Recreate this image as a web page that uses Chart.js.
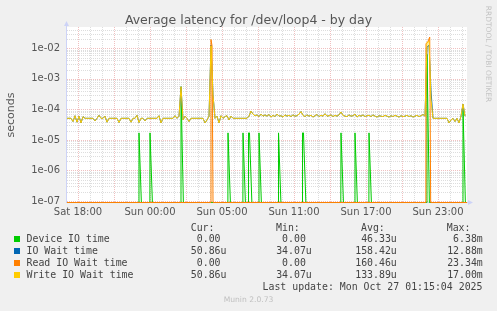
<!DOCTYPE html>
<html>
<head>
<meta charset="utf-8">
<script src="https://cdn.jsdelivr.net/npm/chart.js@4.4.1/dist/chart.umd.min.js"></script>
<style>
  html, body { margin: 0; padding: 0; background: #f0f0f0; }
  #wrap { position: relative; width: 497px; height: 311px; overflow: hidden; background: #f0f0f0; }
  #chart { position: absolute; left: 0; top: 0; }
  .txt { position: absolute; white-space: pre; font-family: "DejaVu Sans", sans-serif; font-weight: normal; color: #555; }
  .mono { position: absolute; white-space: pre; font-family: "DejaVu Sans Mono", monospace; font-size: 9.9px; line-height: 12px; color: #444; }
  .sq { position: absolute; width: 6px; height: 6px; }
</style>
</head>
<body>
<div id="wrap">
  <canvas id="chart" width="497" height="311"></canvas>
  <div class="txt" id="title" style="left:0;top:12px;width:497px;text-align:center;font-size:12.5px;line-height:16px;"></div>
  <div class="txt" id="ylabel" style="left:-13px;top:109px;width:48px;height:12px;text-align:center;font-size:11px;line-height:12px;transform:rotate(-90deg);"></div>
  <div class="txt" id="side" style="left:438px;top:49px;width:100px;height:10px;text-align:center;font-size:7.5px;line-height:10px;color:#c4c4c4;transform:rotate(90deg);"></div>
  <div id="legend"></div>
  <div class="txt" id="munin" style="left:0;top:295px;width:497px;text-align:center;font-size:7.6px;line-height:10px;color:#c0c0c0;"></div>
</div>
<script>
// hours are counted from Sat 18:00 (12 px per hour in the original)
const xTickHours = [0, 6, 12, 18, 24, 30];
const xTickLabels = ['Sat 18:00', 'Sun 00:00', 'Sun 05:00', 'Sun 11:00', 'Sun 17:00', 'Sun 23:00'];
const yTickValues = [1e-7, 1e-6, 1e-5, 1e-4, 1e-3, 1e-2];
const yTickLabels = ['1e-07', '1e-06', '1e-05', '1e-04', '1e-03', '1e-02'];

// write / io wait sampled every 10 min, starting at -11/12 h, values in microseconds
const sampleStart = -11 / 12;
const sampleStep = 1 / 6;
const writeWaitUs = [
  51, 51, 51, 40, 62, 38, 60, 36, 58, 51,
  51, 51, 51, 51, 42, 51, 64, 51, 51, 60,
  38, 51, 51, 51, 51, 51, 37, 51, 51, 51,
  51, 51, 38, 51, 51, 64, 37, 51, 51, 42,
  51, 51, 51, 51, 51, 51, 62, 36, 51, 51,
  51, 51, 51, 51, 62, 51, 60, 550, 45, 60,
  51, 40, 51, 51, 51, 51, 51, 51, 51, 36,
  45, 60, 12000, 300, 51, 60, 36, 62, 51, 58,
  62, 45, 60, 51, 51, 51, 51, 51, 51, 51,
  51, 60, 88, 70, 62, 66, 58, 70, 60, 66,
  60, 68, 56, 64, 58, 70, 60, 62, 56, 66,
  60, 64, 58, 66, 60, 62, 70, 85, 64, 58,
  66, 60, 64, 56, 62, 68, 58, 64, 60, 72,
  60, 62, 66, 58, 64, 60, 66, 82, 64, 60,
  58, 66, 60, 62, 70, 56, 64, 60, 66, 58,
  62, 64, 58, 66, 60, 56, 62, 60, 58, 64,
  60, 56, 62, 58, 64, 60, 56, 62, 58, 60,
  64, 58, 62, 56, 60, 64, 58, 62, 68, 60,
  15000, 17000, 200, 51, 51, 51, 51, 51, 51, 51,
  51, 36, 45, 51, 40, 51, 36, 60, 150, 60
];
const ioWaitUs = [
  51, 51, 51, 40, 62, 38, 60, 36, 58, 51,
  51, 51, 51, 51, 42, 51, 64, 51, 51, 60,
  38, 51, 51, 51, 51, 51, 37, 51, 51, 51,
  51, 51, 38, 51, 51, 64, 37, 51, 51, 42,
  51, 51, 51, 51, 51, 51, 62, 36, 51, 51,
  51, 51, 51, 51, 62, 51, 60, 550, 45, 60,
  51, 40, 51, 51, 51, 51, 51, 51, 51, 36,
  45, 60, 12880, 300, 51, 60, 36, 62, 51, 58,
  62, 45, 60, 51, 51, 51, 51, 51, 51, 51,
  51, 60, 88, 70, 62, 66, 58, 70, 60, 66,
  60, 68, 56, 64, 58, 70, 60, 62, 56, 66,
  60, 64, 58, 66, 60, 62, 70, 85, 64, 58,
  66, 60, 64, 56, 62, 68, 58, 64, 60, 72,
  60, 62, 66, 58, 64, 60, 66, 82, 64, 60,
  58, 66, 60, 62, 70, 56, 64, 60, 66, 58,
  62, 64, 58, 66, 60, 56, 62, 60, 58, 64,
  60, 56, 62, 58, 64, 60, 56, 62, 58, 60,
  64, 58, 62, 56, 60, 64, 58, 62, 68, 60,
  11000, 12500, 400, 51, 51, 51, 51, 51, 51, 51,
  51, 36, 45, 51, 40, 51, 36, 60, 150, 60
];

// device io time and read wait are zero except for short spikes
const deviceHours = [-0.92,
  5.07, 5.083, 5.28, 5.99, 6.0, 6.2, 8.57, 8.583, 8.78,
  12.49, 12.5, 12.7, 13.74, 13.75, 13.95, 14.2, 14.21, 14.29, 14.49,
  15.07, 15.083, 15.28, 16.7, 16.71, 16.91, 18.7, 18.71, 18.79, 18.99,
  21.9, 21.917, 22.12, 23.07, 23.083, 23.28, 24.24, 24.25, 24.45,
  29.07, 29.083, 29.28, 32.07, 32.083, 32.28, 32.42];
const deviceUs = [0,
  0, 17, 0, 0, 17, 0, 0, 550, 0,
  0, 17, 0, 0, 17, 0, 0, 17, 17, 0,
  0, 17, 0, 0, 17, 0, 0, 17, 17, 0,
  0, 17, 0, 0, 17, 0, 0, 17, 0,
  0, 6380, 0, 0, 120, 0, 0];
const readHours = [-0.92, 11.0, 11.083, 11.17, 11.25, 28.99, 29.0, 29.17, 29.31, 29.39, 32.42];
const readUs = [0, 0, 19400, 12000, 0, 0, 14000, 17000, 23340, 0, 0];

const seriesNames = ['Device IO time', 'IO Wait time', 'Read IO Wait time', 'Write IO Wait time'];
const seriesColors = ['#00cc00', '#0066b3', '#ff8000', '#ffcc00'];
const curValues = ['0.00 ', '50.86u', '0.00 ', '50.86u'];
const minValues = ['0.00 ', '34.07u', '0.00 ', '34.07u'];
const avgValues = ['46.33u', '158.42u', '160.46u', '133.89u'];
const maxValues = ['6.38m', '12.88m', '23.34m', '17.00m'];

const X_MIN = -11 / 12;
const X_MAX = 389 / 12;
const Y_MIN = Math.pow(10, -7.033);
const Y_MAX = Math.pow(10, -1.302);
// zero has no place on a log axis: rrdtool draws it on the bottom edge
const Y_ZERO = Math.pow(10, -7.05);

function toPoints(hours, us) {
  return us.map((v, i) => ({ x: hours[i], y: v > 0 ? v * 1e-6 : Y_ZERO }));
}
const sampleHours = writeWaitUs.map((_, i) => sampleStart + i * sampleStep);

// texts
document.getElementById('title').textContent = 'Average latency for /dev/loop4 - by day';
document.getElementById('ylabel').textContent = 'seconds';
document.getElementById('side').textContent = 'RRDTOOL / TOBI OETIKER';
document.getElementById('munin').textContent = 'Munin 2.0.73';

(function buildLegend() {
  const legend = document.getElementById('legend');
  function add(cls, text, style) {
    const el = document.createElement('div');
    el.className = cls;
    el.textContent = text;
    el.setAttribute('style', style);
    legend.appendChild(el);
    return el;
  }
  const headers = [['Cur:', 190.7], ['Min:', 276], ['Avg:', 361], ['Max:', 446.7]];
  headers.forEach(h => add('mono', h[0], `left:${h[1]}px;top:${228.3 - 6}px;`));
  const rights = [226.5, 311.8, 396.8, 482.8];
  seriesNames.forEach((name, i) => {
    const cy = 239.3 + i * 12;
    const sq = document.createElement('div');
    sq.className = 'sq';
    sq.style.left = '14px';
    sq.style.top = (cy - 3) + 'px';
    sq.style.background = seriesColors[i];
    legend.appendChild(sq);
    add('mono', name, `left:26.5px;top:${cy - 6}px;`);
    [curValues[i], minValues[i], avgValues[i], maxValues[i]].forEach((v, k) => {
      add('mono', v, `right:${497 - rights[k]}px;top:${cy - 6}px;text-align:right;`);
    });
  });
  add('mono', 'Last update: Mon Oct 27 01:15:04 2025', `right:${497 - 482.5}px;top:${287.3 - 6}px;`);
})();

const rrdFrame = {
  id: 'rrdFrame',
  beforeDraw(chart) {
    const { ctx, chartArea: a } = chart;
    ctx.save();
    ctx.fillStyle = '#ffffff';
    ctx.fillRect(a.left, a.top, a.right - a.left, a.bottom - a.top + 1);
    ctx.restore();
  },
  beforeDatasetsDraw(chart) {
    const { ctx, chartArea: a, scales } = chart;
    const xs = scales.x, ys = scales.y;
    ctx.save();
    ctx.lineWidth = 1;
    ctx.setLineDash([1, 1]);
    // minor first, then major on top
    [false, true].forEach(major => {
      ctx.strokeStyle = major ? 'rgba(225,130,130,0.5)' : 'rgba(170,170,170,0.4)';
      ctx.beginPath();
      for (let d = -8; d <= -1; d++) {
        for (let m = 1; m <= 9; m++) {
          const v = m * Math.pow(10, d);
          if (v < Y_MIN || v > Y_MAX) continue;
          if ((m === 1) !== major) continue;
          const y = Math.round(ys.getPixelForValue(v)) + 0.5;
          ctx.moveTo(a.left, y);
          ctx.lineTo(a.right, y);
        }
      }
      for (let h = -1; h <= 33; h++) {
        if (h < X_MIN || h > X_MAX) continue;
        if ((h % 3 === 0) !== major) continue;
        const x = Math.round(xs.getPixelForValue(h)) + 0.5;
        ctx.moveTo(x, a.top);
        ctx.lineTo(x, a.bottom);
      }
      ctx.stroke();
    });
    ctx.setLineDash([]);
    // axes with arrows
    ctx.strokeStyle = '#cdd3f7';
    ctx.fillStyle = '#cdd3f7';
    ctx.beginPath();
    ctx.moveTo(a.left - 0.5, a.bottom + 1);
    ctx.lineTo(a.left - 0.5, a.top - 3);
    ctx.moveTo(a.left - 1, a.bottom + 0.5);
    ctx.lineTo(a.right + 3, a.bottom + 0.5);
    ctx.stroke();
    ctx.beginPath();
    ctx.moveTo(a.left - 3, a.top - 1);
    ctx.lineTo(a.left + 2, a.top - 1);
    ctx.lineTo(a.left - 0.5, a.top - 6);
    ctx.closePath();
    ctx.fill();
    ctx.beginPath();
    ctx.moveTo(a.right + 1, a.bottom - 2);
    ctx.lineTo(a.right + 1, a.bottom + 3);
    ctx.lineTo(a.right + 6, a.bottom + 0.5);
    ctx.closePath();
    ctx.fill();
    ctx.restore();
  }
};

const lineStyle = { borderWidth: 1, pointRadius: 0, tension: 0, fill: false, clip: { left: 1, top: 1, right: 1, bottom: 2 } };

new Chart(document.getElementById('chart').getContext('2d'), {
  type: 'line',
  data: {
    datasets: [
      Object.assign({ label: seriesNames[3], data: toPoints(sampleHours, writeWaitUs), borderColor: seriesColors[3] }, lineStyle),
      Object.assign({ label: seriesNames[2], data: toPoints(readHours, readUs), borderColor: seriesColors[2] }, lineStyle),
      Object.assign({ label: seriesNames[1], data: toPoints(sampleHours, ioWaitUs), borderColor: seriesColors[1] }, lineStyle),
      Object.assign({ label: seriesNames[0], data: toPoints(deviceHours, deviceUs), borderColor: seriesColors[0] }, lineStyle)
    ]
  },
  options: {
    responsive: false,
    devicePixelRatio: 1,
    animation: false,
    parsing: false,
    layout: { padding: { left: 0, top: 27, right: 30, bottom: 95 } },
    plugins: { legend: { display: false }, tooltip: { enabled: false }, title: { display: false } },
    scales: {
      x: {
        type: 'linear',
        min: X_MIN,
        max: X_MAX,
        grid: { display: false, drawTicks: false },
        border: { display: false },
        afterBuildTicks: scale => { scale.ticks = xTickHours.map(v => ({ value: v })); },
        afterFit: scale => { scale.height = 14; },
        ticks: {
          autoSkip: false,
          maxRotation: 0,
          padding: 4,
          color: '#555',
          font: { family: 'DejaVu Sans', size: 10 },
          callback: v => xTickLabels[xTickHours.indexOf(v)]
        }
      },
      y: {
        type: 'logarithmic',
        min: Y_MIN,
        max: Y_MAX,
        grid: { display: false, drawTicks: false },
        border: { display: false },
        afterBuildTicks: scale => { scale.ticks = yTickValues.map(v => ({ value: v })); },
        afterFit: scale => { scale.width = 67; },
        ticks: {
          padding: 7,
          color: '#555',
          font: { family: 'DejaVu Sans', size: 10 },
          callback: v => yTickLabels[yTickValues.indexOf(v)]
        }
      }
    }
  },
  plugins: [rrdFrame]
});
</script>
</body>
</html>
